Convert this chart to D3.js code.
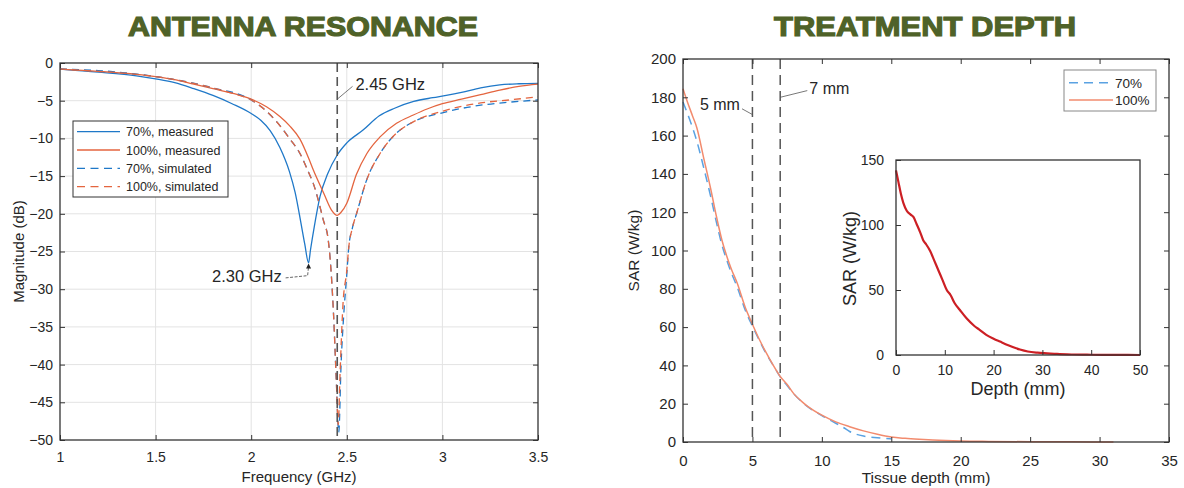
<!DOCTYPE html>
<html>
<head>
<meta charset="utf-8">
<script src="https://cdn.jsdelivr.net/npm/d3@7"></script>
<style>
  body { margin: 0; background: #fff; }
  svg text { font-family: "Liberation Sans", Arial, sans-serif; fill: #262626; }
</style>
</head>
<body>
<svg id="chart" width="1184" height="488"></svg>
<script>
// ---- antenna resonance data (frequency GHz / magnitude dB)
const fMeas70 = [1.0, 1.2, 1.4, 1.5, 1.6, 1.7, 1.8, 1.9, 2.0, 2.05, 2.1, 2.15, 2.2, 2.23, 2.26, 2.28, 2.30, 2.31, 2.33, 2.36, 2.40, 2.45, 2.5, 2.585, 2.67, 2.75, 2.85, 2.95, 3.02, 3.1, 3.2, 3.3, 3.4, 3.5];
const dbMeas70 = [-0.8, -1.2, -1.7, -2.1, -2.6, -3.4, -4.3, -5.4, -6.7, -7.6, -9.0, -11.2, -14.4, -17.2, -21.2, -24.0, -26.5, -24.8, -21.7, -17.7, -14.7, -12.2, -10.6, -8.9, -7.0, -6.0, -5.1, -4.6, -4.3, -3.9, -3.3, -2.9, -2.75, -2.7];

const fMeas100 = [1.0, 1.2, 1.4, 1.5, 1.6, 1.7, 1.8, 1.9, 2.0, 2.08, 2.15, 2.2, 2.255, 2.3, 2.325, 2.38, 2.42, 2.45, 2.47, 2.5, 2.55, 2.605, 2.674, 2.76, 2.848, 2.92, 3.0, 3.1, 3.2, 3.3, 3.4, 3.5];
const dbMeas100 = [-0.8, -1.1, -1.5, -1.8, -2.2, -2.8, -3.4, -4.0, -4.8, -5.8, -7.1, -8.3, -10.1, -12.6, -14.2, -17.3, -19.5, -20.2, -19.8, -18.6, -14.8, -12.0, -9.8, -8.0, -6.9, -6.1, -5.4, -4.8, -4.2, -3.6, -3.1, -2.8];

const fSim70 = [1.0, 1.2, 1.34, 1.5, 1.6, 1.8, 2.0, 2.08, 2.15, 2.2, 2.255, 2.3, 2.325, 2.377, 2.403, 2.412, 2.43, 2.445, 2.458, 2.47, 2.485, 2.5, 2.51, 2.53, 2.552, 2.604, 2.674, 2.76, 2.848, 3.0, 3.2, 3.35, 3.5];
const dbSim70 = [-0.8, -1.0, -1.3, -1.8, -2.2, -3.3, -4.9, -6.4, -8.3, -10.0, -12.0, -14.5, -16.0, -20.8, -23.5, -25.7, -33.0, -42.0, -49.0, -40.0, -33.0, -28.0, -24.5, -21.8, -19.9, -15.5, -12.0, -9.3, -7.8, -6.6, -5.6, -5.2, -4.9];

const fSim100 = [1.0, 1.2, 1.4, 1.6, 1.8, 1.9, 2.0, 2.08, 2.15, 2.2, 2.255, 2.3, 2.325, 2.377, 2.403, 2.412, 2.43, 2.445, 2.455, 2.465, 2.48, 2.5, 2.51, 2.53, 2.552, 2.604, 2.674, 2.76, 2.848, 3.0, 3.2, 3.35, 3.5];
const dbSim100 = [-0.8, -1.1, -1.5, -2.2, -3.3, -4.0, -4.9, -6.4, -8.3, -10.0, -12.0, -14.5, -16.0, -20.8, -23.5, -25.7, -33.0, -42.0, -48.0, -41.0, -32.0, -27.5, -24.5, -21.8, -19.9, -15.5, -12.0, -9.3, -7.8, -6.4, -5.3, -4.9, -4.5];

const freqTicks = [1, 1.5, 2, 2.5, 3, 3.5];
const dbTicks = [0, -5, -10, -15, -20, -25, -30, -35, -40, -45, -50];

// ---- treatment depth data (depth mm / SAR W/kg)
const depth100 = [0, 0.3, 0.7, 1.0, 1.5, 2.0, 2.4, 2.8, 3.2, 3.5, 3.9, 4.5, 5.0, 5.5, 6.0, 6.5, 7.0, 7.5, 8.0, 8.5, 9.0, 10, 11, 12, 13, 14, 15, 16, 17, 18, 20, 22, 25, 28, 31];
const sar100 = [184.5, 178, 170, 164, 148, 132, 118, 105.5, 96, 90, 83, 70, 61.5, 53.5, 46.5, 40, 34.2, 30, 25, 21.5, 18.5, 14, 10.5, 8, 5.8, 4, 2.6, 1.9, 1.4, 1.0, 0.5, 0.3, 0.15, 0.1, 0];
const depth70 = [0, 0.5, 1.0, 1.5, 2.0, 2.4, 2.8, 3.2, 3.5, 3.9, 4.5, 5.0, 5.5, 6.0, 6.5, 7.0, 7.5, 8.0, 8.5, 9.0, 10, 11, 11.5, 12, 12.5, 13, 14, 15];
const sar70 = [177.5, 168, 157, 143, 128, 115, 103, 94, 88, 81, 68.5, 60.5, 53, 46, 40, 34, 29.5, 25, 21.3, 18.3, 13.8, 9.8, 7.8, 5.5, 4.0, 3.1, 2.2, 1.6];
const depthTicks = [0, 5, 10, 15, 20, 25, 30, 35];
const sarTicks = [0, 20, 40, 60, 80, 100, 120, 140, 160, 180, 200];

// inset
const insetDepth = [0, 0.5, 1.0, 1.5, 2.2, 3.0, 3.6, 4.2, 5.0, 5.6, 6.2, 7.0, 7.8, 8.7, 9.5, 10.4, 11.2, 12.0, 13.1, 14.5, 16, 17.2, 18.5, 20, 21.3, 23, 25.4, 27, 29, 31, 33, 36, 40, 45, 50];
const insetSar = [142, 133, 124, 117, 111, 108, 106, 101, 94, 88, 85, 80, 73, 65, 58, 50, 46, 40, 34.6, 28, 22.5, 19.2, 15.5, 12.5, 10.3, 7.5, 4.2, 2.7, 1.8, 1.3, 0.8, 0.4, 0.2, 0.1, 0];
const insetXTicks = [0, 10, 20, 30, 40, 50];
const insetYTicks = [0, 50, 100, 150];

const blue = "#1f78c8", orange = "#e4653f";
const blueLight = "#5aa2e2", salmon = "#f28b6e", deepRed = "#cc1f24";

const svg = d3.select("#chart");

// titles
svg.append("text").attr("x", 303).attr("y", 36).attr("text-anchor", "middle")
    .attr("textLength", 350).attr("lengthAdjust", "spacingAndGlyphs")
    .style("font-size", "28px").style("font-weight", "bold")
    .style("fill", "#4f6228").style("stroke", "#4f6228").style("stroke-width", 1.2)
    .text("ANTENNA RESONANCE");
svg.append("text").attr("x", 925).attr("y", 36).attr("text-anchor", "middle")
    .attr("textLength", 302).attr("lengthAdjust", "spacingAndGlyphs")
    .style("font-size", "28px").style("font-weight", "bold")
    .style("fill", "#4f6228").style("stroke", "#4f6228").style("stroke-width", 1.2)
    .text("TREATMENT DEPTH");

function zip(xs, ys) { return xs.map((x, i) => [x, ys[i]]); }

function boxAxes(g, x, y, xt, yt, w, h, opts) {
    const fs = opts.fontSize;
    const bottom = g.append("g").attr("transform", `translate(0,${h})`)
        .call(d3.axisBottom(x).tickValues(xt).tickSizeInner(-5).tickSizeOuter(0).tickPadding(opts.xPad).tickFormat(opts.xFmt || d3.format("")));
    const left = g.append("g")
        .call(d3.axisLeft(y).tickValues(yt).tickSizeInner(-5).tickSizeOuter(0).tickPadding(opts.yPad).tickFormat(opts.yFmt || d3.format("")));
    [bottom, left].forEach(a => {
        a.selectAll("text").style("font-size", fs + "px").style("fill", "#262626");
        a.selectAll("line").attr("stroke", "#333");
        a.select(".domain").remove();
    });
    if (opts.mirror) {
        g.append("g").call(d3.axisTop(x).tickValues(xt).tickSizeInner(-5).tickSizeOuter(0).tickFormat(""))
            .call(a => { a.select(".domain").remove(); a.selectAll("line").attr("stroke", "#333"); });
        g.append("g").attr("transform", `translate(${w},0)`)
            .call(d3.axisRight(y).tickValues(yt).tickSizeInner(-5).tickSizeOuter(0).tickFormat(""))
            .call(a => { a.select(".domain").remove(); a.selectAll("line").attr("stroke", "#333"); });
    }
    g.append("rect").attr("width", w).attr("height", h)
        .attr("fill", "none").attr("stroke", "#333").attr("stroke-width", 1.3);
}

// ================= left chart =================
const L = { x0: 60, x1: 538, y0: 63, y1: 440 };
const lw = L.x1 - L.x0, lh = L.y1 - L.y0;
const gl = svg.append("g").attr("transform", `translate(${L.x0},${L.y0})`);
const xf = d3.scaleLinear().domain([1, 3.5]).range([0, lw]);
const yd = d3.scaleLinear().domain([-50, 0]).range([lh, 0]);

// grid
gl.append("g").selectAll("line").data(freqTicks.slice(1, -1)).join("line")
    .attr("x1", d => xf(d)).attr("x2", d => xf(d)).attr("y1", 0).attr("y2", lh)
    .attr("stroke", "#e3e3e3");
gl.append("g").selectAll("line").data(dbTicks.slice(1, -1)).join("line")
    .attr("y1", d => yd(d)).attr("y2", d => yd(d)).attr("x1", 0).attr("x2", lw)
    .attr("stroke", "#e3e3e3");

const lineL = d3.line().x(d => xf(d[0])).y(d => yd(d[1])).curve(d3.curveMonotoneX);
const leftSeries = [
    { name: "70%, measured", data: zip(fMeas70, dbMeas70), color: blue, dash: null },
    { name: "100%, measured", data: zip(fMeas100, dbMeas100), color: orange, dash: null },
    { name: "70%, simulated", data: zip(fSim70, dbSim70), color: blue, dash: "7,5" },
    { name: "100%, simulated", data: zip(fSim100, dbSim100), color: orange, dash: "7,5" }
];
gl.selectAll("path.series").data(leftSeries).join("path").attr("class", "series")
    .attr("d", d => lineL(d.data)).attr("fill", "none")
    .attr("stroke", d => d.color).attr("stroke-width", 1.3)
    .attr("stroke-dasharray", d => d.dash);

// 2.45 GHz marker
gl.append("line").attr("x1", xf(2.45)).attr("x2", xf(2.45)).attr("y1", 0).attr("y2", lh)
    .attr("stroke", "#555").attr("stroke-width", 1.6).attr("stroke-dasharray", "9,5");
gl.append("line").attr("x1", xf(2.45)).attr("y1", yd(-4.8)).attr("x2", xf(2.53)).attr("y2", yd(-3.1))
    .attr("stroke", "#555").attr("stroke-width", 0.8);
gl.append("text").attr("x", xf(2.545)).attr("y", yd(-3.6)).style("font-size", "16.5px").text("2.45 GHz");

// 2.30 GHz annotation
gl.append("path")
    .attr("d", `M${xf(2.18)},${yd(-28.5)} L${xf(2.295)},${yd(-28.2)} L${xf(2.3)},${yd(-27.0)}`)
    .attr("fill", "none").attr("stroke", "#555").attr("stroke-width", 0.9).attr("stroke-dasharray", "3,1.5");
gl.append("path")
    .attr("d", `M${xf(2.3)},${yd(-26.6)} l-2.5,5 l5,0 z`).attr("fill", "#222");
gl.append("text").attr("x", xf(2.16)).attr("y", yd(-29.1)).attr("text-anchor", "end")
    .style("font-size", "16.5px").text("2.30 GHz");

boxAxes(gl, xf, yd, freqTicks, dbTicks, lw, lh, { fontSize: 14, xPad: 12, yPad: 7, mirror: true });

gl.append("text").attr("x", lw / 2).attr("y", 482 - L.y0).attr("text-anchor", "middle")
    .style("font-size", "15px").text("Frequency (GHz)");
gl.append("text").attr("transform", `translate(${24 - L.x0},${lh / 2}) rotate(-90)`)
    .attr("text-anchor", "middle").style("font-size", "15px").text("Magnitude (dB)");

// legend left
const lg = gl.append("g").attr("transform", `translate(${73 - L.x0},${121 - L.y0})`);
lg.append("rect").attr("width", 155).attr("height", 76).attr("fill", "#fff").attr("stroke", "#333").attr("stroke-width", 1);
lg.selectAll("g.item").data(leftSeries).join("g").attr("class", "item")
    .attr("transform", (d, i) => `translate(0,${10.7 + i * 18.3})`)
    .each(function (d) {
        const it = d3.select(this);
        it.append("line").attr("x1", 4).attr("x2", 47).attr("stroke", d.color)
            .attr("stroke-width", 1.3).attr("stroke-dasharray", d.dash ? "8,5.5" : null);
        it.append("text").attr("x", 53).attr("y", 4.5).style("font-size", "12.5px").text(d.name);
    });

// ================= right chart =================
const R = { x0: 683, x1: 1169, y0: 59, y1: 442 };
const rw = R.x1 - R.x0, rh = R.y1 - R.y0;
const gr = svg.append("g").attr("transform", `translate(${R.x0},${R.y0})`);
const xr = d3.scaleLinear().domain([0, 35]).range([0, rw]);
const yr = d3.scaleLinear().domain([0, 200]).range([rh, 0]);

const lineR = d3.line().x(d => xr(d[0])).y(d => yr(d[1])).curve(d3.curveMonotoneX);
const rightSeries = [
    { name: "70%", data: zip(depth70, sar70), color: blueLight, dash: "9,6" },
    { name: "100%", data: zip(depth100, sar100), color: salmon, dash: null }
];
gr.selectAll("path.series").data(rightSeries).join("path").attr("class", "series")
    .attr("d", d => lineR(d.data)).attr("fill", "none")
    .attr("stroke", d => d.color).attr("stroke-width", 1.5)
    .attr("stroke-dasharray", d => d.dash);

[5, 7].forEach(v => {
    gr.append("line").attr("x1", xr(v)).attr("x2", xr(v)).attr("y1", 0).attr("y2", rh)
        .attr("stroke", "#555").attr("stroke-width", 1.5).attr("stroke-dasharray", "10,6");
});
gr.append("line").attr("x1", xr(4.25)).attr("y1", yr(174)).attr("x2", xr(5)).attr("y2", yr(171))
    .attr("stroke", "#555").attr("stroke-width", 0.8);
gr.append("text").attr("x", xr(4.1)).attr("y", yr(173.5)).attr("text-anchor", "end")
    .style("font-size", "16px").text("5 mm");
gr.append("line").attr("x1", xr(7)).attr("y1", yr(180)).attr("x2", xr(8.95)).attr("y2", yr(183.5))
    .attr("stroke", "#555").attr("stroke-width", 0.8);
gr.append("text").attr("x", xr(9.1)).attr("y", yr(181.5)).style("font-size", "16px").text("7 mm");

boxAxes(gr, xr, yr, depthTicks, sarTicks, rw, rh, { fontSize: 15, xPad: 13, yPad: 7, mirror: true });

gr.append("text").attr("x", rw / 2).attr("y", 483 - R.y0).attr("text-anchor", "middle")
    .style("font-size", "15.5px").text("Tissue depth (mm)");
gr.append("text").attr("transform", `translate(${639 - R.x0},${rh / 2}) rotate(-90)`)
    .attr("text-anchor", "middle").style("font-size", "15.5px").text("SAR (W/kg)");

// legend right
const lgr = gr.append("g").attr("transform", `translate(${1064 - R.x0},${70 - R.y0})`);
lgr.append("rect").attr("width", 92).attr("height", 41).attr("fill", "#fff").attr("stroke", "#888").attr("stroke-width", 1);
lgr.selectAll("g.item").data(rightSeries).join("g").attr("class", "item")
    .attr("transform", (d, i) => `translate(0,${12.7 + i * 17.3})`)
    .each(function (d) {
        const it = d3.select(this);
        it.append("line").attr("x1", 5).attr("x2", 49).attr("stroke", d.color)
            .attr("stroke-width", 1.5).attr("stroke-dasharray", d.dash ? "9,6" : null);
        it.append("text").attr("x", 51).attr("y", 5).style("font-size", "13.5px").text(d.name);
    });

// ---- inset
const I = { x0: 896, x1: 1140, y0: 160, y1: 355 };
const iw = I.x1 - I.x0, ih = I.y1 - I.y0;
const gi = svg.append("g").attr("transform", `translate(${I.x0},${I.y0})`);
const xi = d3.scaleLinear().domain([0, 50]).range([0, iw]);
const yi = d3.scaleLinear().domain([0, 150]).range([ih, 0]);
gi.append("rect").attr("width", iw).attr("height", ih).attr("fill", "#fff");
const lineI = d3.line().x(d => xi(d[0])).y(d => yi(d[1])).curve(d3.curveMonotoneX);
gi.append("path").attr("d", lineI(zip(insetDepth, insetSar))).attr("fill", "none")
    .attr("stroke", deepRed).attr("stroke-width", 2.2);
boxAxes(gi, xi, yi, insetXTicks, insetYTicks, iw, ih, { fontSize: 14, xPad: 10, yPad: 12, mirror: false });
gi.append("text").attr("x", iw / 2).attr("y", 395 - I.y0).attr("text-anchor", "middle")
    .style("font-size", "18px").text("Depth (mm)");
gi.append("text").attr("transform", `translate(${856 - I.x0},${ih / 2 + 1}) rotate(-90)`)
    .attr("text-anchor", "middle").style("font-size", "18px").text("SAR (W/kg)");
</script>
</body>
</html>
